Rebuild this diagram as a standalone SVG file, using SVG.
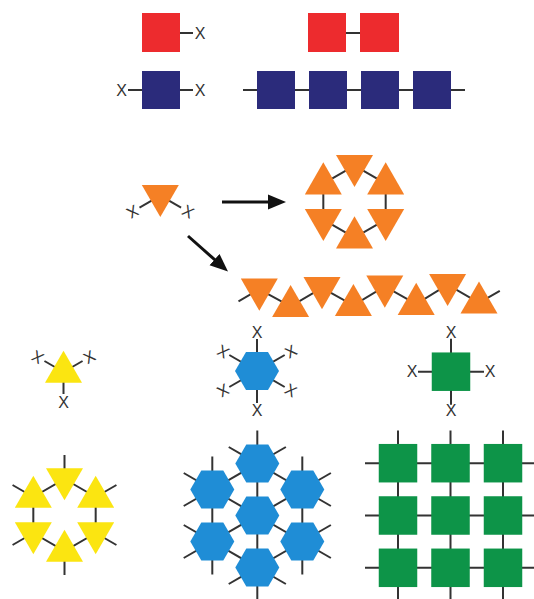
<svg xmlns="http://www.w3.org/2000/svg" xmlns:xlink="http://www.w3.org/1999/xlink" width="534" height="599" viewBox="0 0 534 599">
<style>
.ln{stroke:#333;stroke-width:2;fill:none}
.ar{stroke:#111;stroke-width:3;fill:none}
.x{font-family:"Liberation Sans",Arial,sans-serif;font-size:16px;fill:#333;text-anchor:middle;dominant-baseline:central}
.red{fill:#ed2b2e}
.navy{fill:#2b2b7b}
.or{fill:#f58025}
.ye{fill:#fbe511}
.bl{fill:#1f8dd6}
.gr{fill:#0d9448}
</style>
<defs>
<polygon id="tu" points="0,-21.36 18.5,10.68 -18.5,10.68"/>
<polygon id="td" points="0,21.36 18.5,-10.68 -18.5,-10.68"/>
<polygon id="hx" points="-22,0 -11,-19.05 11,-19.05 22,0 11,19.05 -11,19.05"/>
<rect id="sq" x="-19.25" y="-19.25" width="38.5" height="38.5"/>
<marker id="ah" markerUnits="userSpaceOnUse" markerWidth="20" markerHeight="16" viewBox="0 0 20 16" refX="10" refY="8" orient="auto">
<path d="M0,0.5 L18,8 L0,15.5 z" fill="#111"/>
</marker>
</defs>

<g id="red-monomer">
<line class="ln" x1="180" y1="33" x2="193" y2="33"/>
<rect class="red" x="142" y="13" width="38" height="39"/>
<text class="x" x="200" y="33">X</text>
</g>
<g id="red-dimer">
<line class="ln" x1="346" y1="33" x2="361" y2="33"/>
<rect class="red" x="308" y="13" width="38" height="39"/>
<rect class="red" x="360" y="13" width="39" height="39"/>
</g>
<g id="navy-monomer">
<line class="ln" x1="128" y1="90" x2="193" y2="90"/>
<rect class="navy" x="142" y="71" width="38" height="38"/>
<text class="x" x="121.5" y="90">X</text>
<text class="x" x="200" y="90">X</text>
</g>
<g id="navy-chain">
<line class="ln" x1="243" y1="90" x2="465" y2="90"/>
<rect class="navy" x="257" y="71" width="38" height="38"/>
<rect class="navy" x="309" y="71" width="38" height="38"/>
<rect class="navy" x="361" y="71" width="38" height="38"/>
<rect class="navy" x="413" y="71" width="38" height="38"/>
</g>

<g id="orange-monomer">
<line class="ln" x1="160.3" y1="195.6" x2="139.5" y2="207.6"/>
<line class="ln" x1="160.3" y1="195.6" x2="181.1" y2="207.6"/>
<use href="#td" x="160.3" y="195.6" class="or"/>
<text class="x" x="132.6" y="211.6" transform="rotate(150 132.6 211.6)">X</text>
<text class="x" x="188" y="211.6" transform="rotate(30 188 211.6)">X</text>
</g>

<g id="orange-ring">
<polygon class="ln" points="354.5,165.7 385.68,183.7 385.68,219.7 354.5,237.7 323.32,219.7 323.32,183.7"/>
<use href="#td" x="354.5" y="165.7" class="or"/>
<use href="#tu" x="385.68" y="183.7" class="or"/>
<use href="#td" x="385.68" y="219.7" class="or"/>
<use href="#tu" x="354.5" y="237.7" class="or"/>
<use href="#td" x="323.32" y="219.7" class="or"/>
<use href="#tu" x="323.32" y="183.7" class="or"/>
</g>

<g id="orange-chain">
<polyline class="ln" points="238.5,301.3 259.3,289.3 290.6,306.3 322,287.8 353.4,305.3 384.8,286.3 416.2,304.2 447.6,284.6 479,302.8 499.8,290.8"/>
<use href="#td" x="259.3" y="289.3" class="or"/>
<use href="#tu" x="290.6" y="306.3" class="or"/>
<use href="#td" x="322" y="287.8" class="or"/>
<use href="#tu" x="353.4" y="305.3" class="or"/>
<use href="#td" x="384.8" y="286.3" class="or"/>
<use href="#tu" x="416.2" y="304.2" class="or"/>
<use href="#td" x="447.6" y="284.6" class="or"/>
<use href="#tu" x="479" y="302.8" class="or"/>
</g>

<g id="connectors">
<line class="ar" x1="222" y1="202" x2="278" y2="202" marker-end="url(#ah)"/>
<line class="ar" x1="188" y1="236" x2="222" y2="266.2" marker-end="url(#ah)"/>
</g>

<g id="yellow-monomer">
<line class="ln" x1="63.5" y1="372" x2="63.5" y2="394"/>
<line class="ln" x1="63.5" y1="372" x2="44.45" y2="361"/>
<line class="ln" x1="63.5" y1="372" x2="82.55" y2="361"/>
<use href="#tu" x="63.5" y="372" class="ye"/>
<text class="x" x="63.5" y="402">X</text>
<text class="x" x="37.5" y="357" transform="rotate(-150 37.5 357)">X</text>
<text class="x" x="89.5" y="357" transform="rotate(-30 89.5 357)">X</text>
</g>

<g id="yellow-ring">
<polygon class="ln" points="64.5,479 95.68,497 95.68,533 64.5,551 33.32,533 33.32,497"/>
<line class="ln" x1="64.5" y1="479" x2="64.5" y2="455"/>
<line class="ln" x1="95.68" y1="497" x2="116.46" y2="485"/>
<line class="ln" x1="95.68" y1="533" x2="116.46" y2="545"/>
<line class="ln" x1="64.5" y1="551" x2="64.5" y2="575"/>
<line class="ln" x1="33.32" y1="533" x2="12.54" y2="545"/>
<line class="ln" x1="33.32" y1="497" x2="12.54" y2="485"/>
<use href="#td" x="64.5" y="479" class="ye"/>
<use href="#tu" x="95.68" y="497" class="ye"/>
<use href="#td" x="95.68" y="533" class="ye"/>
<use href="#tu" x="64.5" y="551" class="ye"/>
<use href="#td" x="33.32" y="533" class="ye"/>
<use href="#tu" x="33.32" y="497" class="ye"/>
</g>

<g id="blue-monomer">
<line class="ln" x1="257" y1="339" x2="257" y2="403"/>
<line class="ln" x1="229.29" y1="355" x2="284.71" y2="387"/>
<line class="ln" x1="229.29" y1="387" x2="284.71" y2="355"/>
<use href="#hx" x="257" y="371" class="bl"/>
<text class="x" x="257" y="332">X</text>
<text class="x" x="257" y="410">X</text>
<text class="x" x="290.77" y="351.5" transform="rotate(-30 290.77 351.5)">X</text>
<text class="x" x="290.77" y="390.5" transform="rotate(30 290.77 390.5)">X</text>
<text class="x" x="223.23" y="390.5" transform="rotate(150 223.23 390.5)">X</text>
<text class="x" x="223.23" y="351.5" transform="rotate(-150 223.23 351.5)">X</text>
</g>

<g id="blue-lattice">
<line class="ln" x1="257.3" y1="430.5" x2="257.3" y2="600.5"/>
<line class="ln" x1="212.3" y1="456.5" x2="212.3" y2="574.5"/>
<line class="ln" x1="302.3" y1="456.5" x2="302.3" y2="574.5"/>
<line class="ln" x1="183.72" y1="558" x2="330.88" y2="473"/>
<line class="ln" x1="183.72" y1="506" x2="285.88" y2="447"/>
<line class="ln" x1="228.72" y1="584" x2="330.88" y2="525"/>
<line class="ln" x1="183.72" y1="473" x2="330.88" y2="558"/>
<line class="ln" x1="228.72" y1="447" x2="330.88" y2="506"/>
<line class="ln" x1="183.72" y1="525" x2="285.88" y2="584"/>
<use href="#hx" x="257.3" y="463.5" class="bl"/>
<use href="#hx" x="212.3" y="489.5" class="bl"/>
<use href="#hx" x="302.3" y="489.5" class="bl"/>
<use href="#hx" x="257.3" y="515.5" class="bl"/>
<use href="#hx" x="212.3" y="541.5" class="bl"/>
<use href="#hx" x="302.3" y="541.5" class="bl"/>
<use href="#hx" x="257.3" y="567.5" class="bl"/>
</g>

<g id="green-monomer">
<line class="ln" x1="451" y1="338.7" x2="451" y2="404.7"/>
<line class="ln" x1="418" y1="371.7" x2="484" y2="371.7"/>
<use href="#sq" x="451" y="371.7" class="gr"/>
<text class="x" x="451" y="332.7">X</text>
<text class="x" x="451" y="410.7">X</text>
<text class="x" x="412" y="371.7">X</text>
<text class="x" x="490" y="371.7">X</text>
</g>

<g id="green-lattice">
<line class="ln" x1="398" y1="430.5" x2="398" y2="600"/>
<line class="ln" x1="450.5" y1="430.5" x2="450.5" y2="600"/>
<line class="ln" x1="503" y1="430.5" x2="503" y2="600"/>
<line class="ln" x1="365" y1="463.2" x2="536" y2="463.2"/>
<line class="ln" x1="365" y1="515.5" x2="536" y2="515.5"/>
<line class="ln" x1="365" y1="567.8" x2="536" y2="567.8"/>
<use href="#sq" x="398" y="463.2" class="gr"/>
<use href="#sq" x="450.5" y="463.2" class="gr"/>
<use href="#sq" x="503" y="463.2" class="gr"/>
<use href="#sq" x="398" y="515.5" class="gr"/>
<use href="#sq" x="450.5" y="515.5" class="gr"/>
<use href="#sq" x="503" y="515.5" class="gr"/>
<use href="#sq" x="398" y="567.8" class="gr"/>
<use href="#sq" x="450.5" y="567.8" class="gr"/>
<use href="#sq" x="503" y="567.8" class="gr"/>
</g>
</svg>
